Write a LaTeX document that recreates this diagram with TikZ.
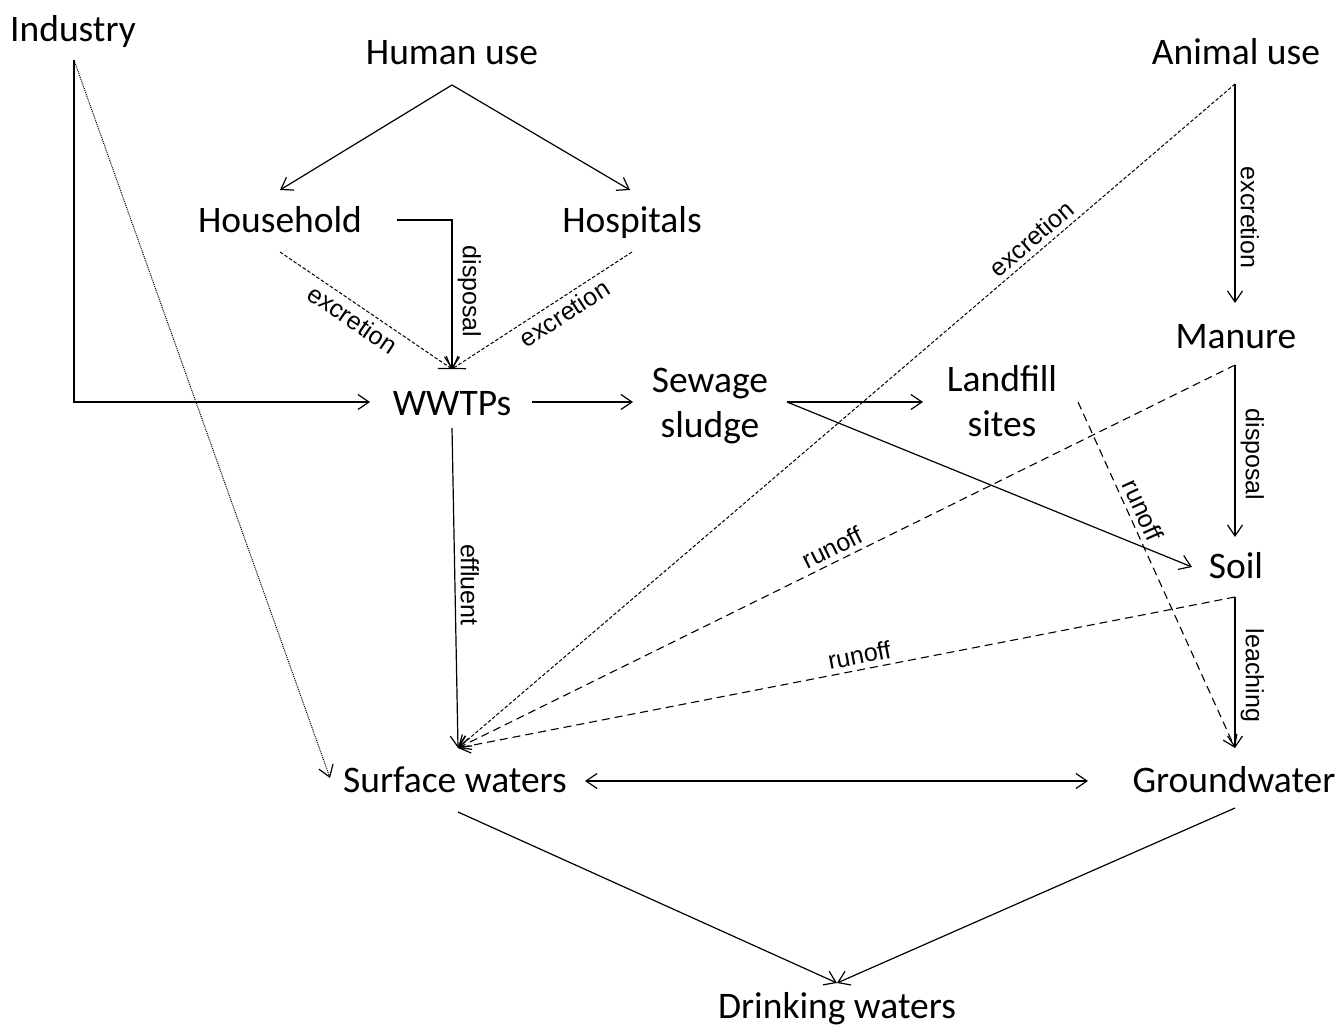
\documentclass[tikz,border=0pt]{standalone}
\usepackage{fontspec}
\setmainfont{Carlito}
\newfontfamily\arialfont{Liberation Sans}
\usetikzlibrary{arrows.meta}
\begin{document}
\begin{tikzpicture}[x=1pt,y=-1pt,
  lab/.style={font=\fontsize{37.5}{45}\selectfont, inner sep=0pt, anchor=base},
  lab2/.style={font=\fontsize{37.5}{45}\selectfont, inner sep=0pt, anchor=center, align=center},
  elab/.style={font=\arialfont\fontsize{25}{28}\selectfont, inner sep=5pt},
  tip/.style={-{Straight Barb[length=11pt,width=15pt,line width=1.2pt]}},
  conn/.style={line width=1.2pt, tip},
  both/.style={line width=1.2pt, {Straight Barb[length=11pt,width=15pt,line width=1.2pt]}-{Straight Barb[length=11pt,width=15pt,line width=1.2pt]}},
  finedash/.style={line width=1pt, dash pattern=on 3.5pt off 2pt, tip},
  longdash/.style={line width=1.1pt, dash pattern=on 8pt off 5pt, tip},
  dotline/.style={line width=1pt, dash pattern=on 1pt off 1pt, tip},
]
\useasboundingbox (0,0) rectangle (1338,1032);

% nodes
\node[lab] (industry) at (73,42) {Industry};
\node[lab] (human) at (452,65) {Human use};
\node[lab] (animal) at (1236,65) {Animal use};
\node[lab] (household) at (280,233) {Household};
\node[lab] (hospitals) at (632,233) {Hospitals};
\node[lab] (manure) at (1236,348) {Manure};
\node[lab] (wwtp) at (452,415) {WWTPs};
\node[lab2] (sludge) at (710,406) {Sewage\\sludge};
\node[lab2] (landfill) at (1002,401) {Landfill\\sites};
\node[lab] (soil) at (1236,578) {Soil};
\node[lab] (surface) at (455,792) {Surface waters};
\node[lab] (ground) at (1234,792) {Groundwater};
\node[lab] (drink) at (837,1018) {Drinking waters};

% ports
\coordinate (ind-s) at (74,60);
\coordinate (wwtp-w) at (370,402);
\coordinate (surf-nw) at (330,778);
\coordinate (human-s) at (452,85);
\coordinate (hh-n) at (280,190);
\coordinate (hosp-n) at (630,190);
\coordinate (hh-e) at (397,220);
\coordinate (hh-s) at (280,252);
\coordinate (hosp-s) at (632,252);
\coordinate (wwtp-n) at (452,369);
\coordinate (wwtp-e) at (532,402);
\coordinate (wwtp-s) at (452,428);
\coordinate (sludge-w) at (633,402);
\coordinate (sludge-e) at (787,402);
\coordinate (landfill-w) at (923,402);
\coordinate (landfill-e) at (1078,402);
\coordinate (soil-w) at (1192,567);
\coordinate (animal-s) at (1235,84);
\coordinate (manure-n) at (1235,303);
\coordinate (manure-s) at (1235,365);
\coordinate (soil-n) at (1235,537);
\coordinate (soil-s) at (1235,597);
\coordinate (ground-n) at (1235,748);
\coordinate (surf-n) at (458,748);
\coordinate (surf-e) at (585,781);
\coordinate (ground-w) at (1088,781);
\coordinate (surf-s) at (458,812);
\coordinate (ground-s) at (1235,808);
\coordinate (drink-n) at (837,983);

% connectors
\draw[conn] (ind-s) |- (wwtp-w);
\draw[dotline] (ind-s) -- (surf-nw);
\draw[conn] (human-s) -- (hh-n);
\draw[conn] (human-s) -- (hosp-n);
\draw[conn] (hh-e) -| (wwtp-n) node[elab, pos=0.74, rotate=-90, anchor=south] {disposal};
\draw[finedash] (hh-s) -- (wwtp-n) node[elab, pos=0.47, rotate=-34.2, anchor=north] {excretion};
\draw[finedash] (hosp-s) -- (wwtp-n) node[elab, pos=0.42, rotate=33.0, anchor=north] {excretion};
\draw[conn] (wwtp-e) -- (sludge-w);
\draw[conn] (wwtp-s) -- (surf-n) node[elab, pos=0.49, rotate=-90, anchor=south] {effluent};
\draw[conn] (sludge-e) -- (landfill-w);
\draw[conn] (sludge-e) -- (soil-w);
\draw[conn] (animal-s) -- (manure-n) node[elab, pos=0.61, rotate=-90, anchor=south] {excretion};
\draw[finedash] (animal-s) -- (surf-n) node[elab, pos=0.25, rotate=40.5, anchor=south] {excretion};
\draw[conn] (manure-s) -- (soil-n) node[elab, pos=0.52, rotate=-90, anchor=south] {disposal};
\draw[longdash] (manure-s) -- (surf-n) node[elab, pos=0.51, rotate=26.2, anchor=south] {runoff};
\draw[longdash] (landfill-e) -- (ground-n) node[elab, pos=0.33, rotate=-65.6, anchor=south] {runoff};
\draw[conn] (soil-s) -- (ground-n) node[elab, pos=0.52, rotate=-90, anchor=south] {leaching};
\draw[longdash] (soil-s) -- (surf-n) node[elab, pos=0.48, rotate=11.0, anchor=south] {runoff};
\draw[both] (surf-e) -- (ground-w);
\draw[conn] (surf-s) -- (drink-n);
\draw[conn] (ground-s) -- (drink-n);
\end{tikzpicture}
\end{document}
